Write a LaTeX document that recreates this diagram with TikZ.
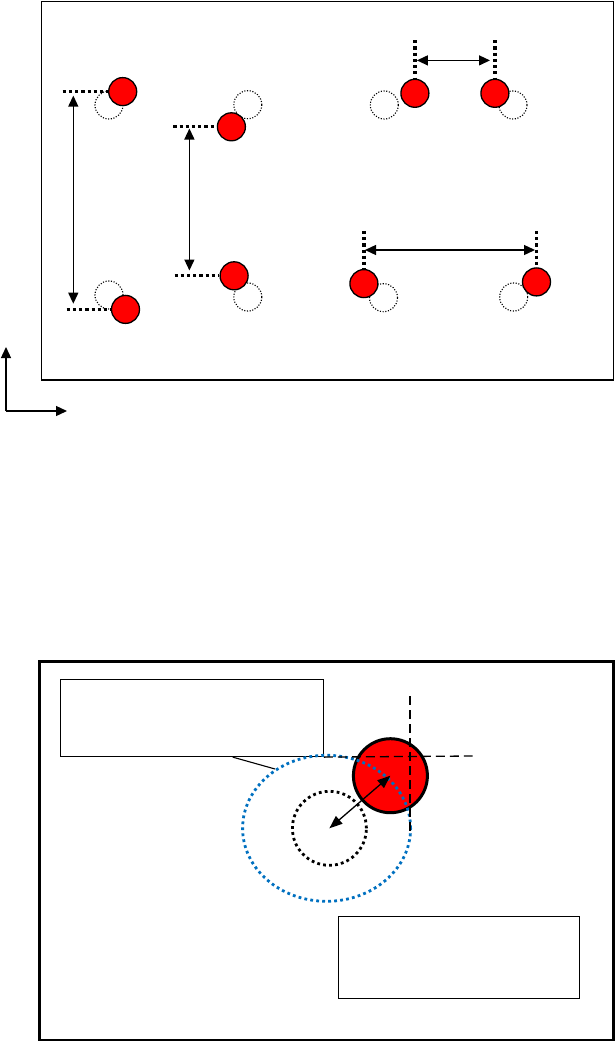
\documentclass[tikz,border=0pt]{standalone}
\usetikzlibrary{arrows.meta,shapes.geometric,calc}

\begin{document}
\begin{tikzpicture}[
  x=1pt, y=-1pt,
  >={Triangle[length=11pt, width=10pt]},
  ball/.style={circle, draw, fill=red, line width=1.3pt, inner sep=0pt, minimum size=28pt},
  ghost/.style={circle, draw, line width=1.1pt, dash pattern=on 1.1pt off 1.6pt, inner sep=0pt, minimum size=28pt},
  guide/.style={line width=3.2pt, dash pattern=on 3.2pt off 3pt},
  span/.style={<->, line width=1.3pt},
  hair/.style={line width=1.3pt, dash pattern=on 9pt off 5pt}
]
\useasboundingbox (0,0) rectangle (615,1041);

% upper panel
\node[draw, line width=1.5pt, minimum width=572pt, minimum height=378pt, anchor=north west] (frame) at (40.8,1) {};
\draw[->, line width=1.3pt] (6,411) -- (6,347);
\draw[->, line width=1.3pt] (6,411) -- (67,411);

% left vertical pair
\node[ghost] (gA1) at (109,105) {};
\node[ghost] (gA2) at (109,295) {};
\node[ball] (A1) at (122.7,91.6) {};
\node[ball] (A2) at (125.5,309.4) {};
\coordinate (tA1) at (62.7,91.6);
\coordinate (tA2) at (66.7,309.4);
\draw[guide] (tA1) -- (A1.west);
\draw[guide] (tA2) -- (A2.west);
\coordinate (aA1) at (73.3,95.6);
\coordinate (aA2) at (73.3,303.7);
\draw[span] (aA1) -- (aA2);

% middle vertical pair
\node[ghost] (gB1) at (247.8,104.7) {};
\node[ghost] (gB2) at (247.8,297) {};
\node[ball] (B1) at (231.4,126.8) {};
\node[ball] (B2) at (234.1,275.8) {};
\coordinate (tB1) at (173.3,126.8);
\coordinate (tB2) at (174.5,275.8);
\draw[guide] (tB1) -- (B1.west);
\draw[guide] (tB2) -- (B2.west);
\coordinate (aB1) at (189.4,128.5);
\coordinate (aB2) at (189.4,270.5);
\draw[span] (aB1) -- (aB2);

% upper horizontal pair
\node[ghost] (gC1) at (384.3,105) {};
\node[ghost] (gC2) at (513,105) {};
\node[ball] (C1) at (414.9,93.3) {};
\node[ball] (C2) at (494.9,93.3) {};
\coordinate (tC1) at (414.9,40.3);
\coordinate (tC2) at (494.9,40.3);
\draw[guide] (tC1) -- (C1.north);
\draw[guide] (tC2) -- (C2.north);
\coordinate (aC1) at (416.9,60.4);
\coordinate (aC2) at (490,60.4);
\draw[span] (aC1) -- (aC2);

% lower horizontal pair
\node[ghost] (gD1) at (383.5,297.7) {};
\node[ghost] (gD2) at (513.7,297) {};
\node[ball] (D1) at (363.9,283.6) {};
\node[ball] (D2) at (536.5,281.9) {};
\coordinate (tD1) at (363.9,230.9);
\coordinate (tD2) at (536.5,230.9);
\draw[guide] (tD1) -- (D1.north);
\draw[guide] (tD2) -- (D2.north);
\coordinate (aD1) at (365,250);
\coordinate (aD2) at (535,250);
\draw[span] (aD1) -- (aD2);

% lower panel
\node[draw, line width=3pt, minimum width=574pt, minimum height=379pt, anchor=north west] (frame2) at (37.5,660) {};
\node[draw, line width=0.8pt, minimum width=263.4pt, minimum height=77pt, anchor=north west] (note) at (59.6,679.3) {};
\node[draw, line width=0.8pt, minimum width=240.6pt, minimum height=82pt, anchor=north west] (note2) at (338.4,916.3) {};

\node[circle, draw, fill=red, line width=3pt, inner sep=0pt, minimum size=74pt] (big) at (390.4,775.7) {};
\node[ellipse, draw={rgb,255:red,0;green,112;blue,192}, line width=2.8pt, dash pattern=on 2.8pt off 3.2pt,
      inner sep=0pt, minimum width=168pt, minimum height=146pt] (halo) at (326.6,828.3) {};
\node[circle, draw, line width=2.8pt, dash pattern=on 2.8pt off 3.2pt,
      inner sep=0pt, minimum size=74pt] (core) at (329.4,828.3) {};

\draw[line width=1.1pt] ($(note.south west)!0.655!(note.south east)$) -- (halo.131);

\coordinate (hx) at (472.7,756);
\coordinate (vt) at (410,696);
\coordinate (vb) at (410,836);
\draw[hair] (note.south east) -- (hx);
\draw[hair] (vt) -- (vb);

\draw[<->, line width=1.3pt, >={Triangle[length=13pt, width=10pt]}] (core.center) -- (big.center);

\end{tikzpicture}
\end{document}
